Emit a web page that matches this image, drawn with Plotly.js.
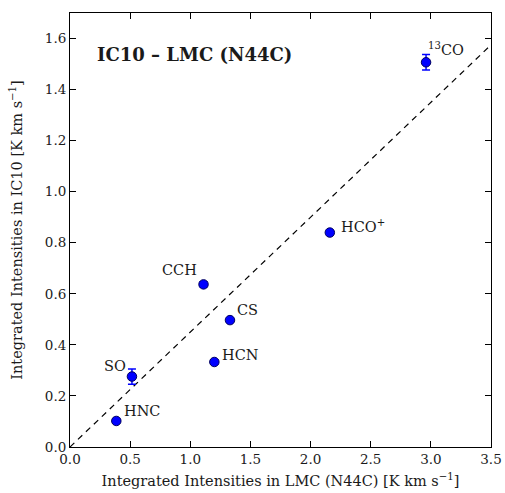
<!DOCTYPE html>
<html>
<head>
<meta charset="utf-8">
<script src="https://cdn.plot.ly/plotly-3.0.1.min.js"></script>
<style>html,body{margin:0;padding:0;background:#fff;}#chart{width:505px;height:493px;}</style>
</head>
<body>
<div id="chart"></div>
<script>
const species = ["<sup>13</sup>CO", "HCO<sup>+</sup>", "CCH", "CS", "HCN", "SO", "HNC"];
const lmcValues = [2.96, 2.16, 1.11, 1.33, 1.20, 0.515, 0.385];
const ic10Values = [1.507, 0.84, 0.637, 0.497, 0.333, 0.276, 0.102];
const ic10Errors = [0.03, 0.008, 0.01, 0.006, 0.008, 0.03, 0.006];
const lineX = [0, 3.5];
const lineY = [0, 1.575];
const xTicks = [0, 0.5, 1, 1.5, 2, 2.5, 3, 3.5];
const yTicks = [0, 0.2, 0.4, 0.6, 0.8, 1.0, 1.2, 1.4, 1.6];

// label offsets (pixels): [xshift, yshift, xanchor]
const labelOffsets = [
  [0, 13, "left"],
  [9, 7, "left"],
  [-5, 14, "right"],
  [5, 10, "left"],
  [6, 7, "left"],
  [-4, 11, "right"],
  [6, 10, "left"]
];

const font = "DejaVu Serif, Liberation Serif, serif";
const textColor = "#1a1a1a";

const traces = [
  {
    x: lineX, y: lineY, mode: "lines", type: "scatter",
    line: {color: "black", width: 1.2, dash: "6px,5px"},
    hoverinfo: "skip", showlegend: false
  },
  {
    x: lmcValues, y: ic10Values, mode: "markers", type: "scatter",
    marker: {color: "#0000ff", size: 9.5, line: {color: "#000060", width: 1}},
    error_y: {type: "data", array: ic10Errors, visible: true, color: "#0000ff", thickness: 1.5, width: 4},
    showlegend: false
  }
];

const annotations = species.map((s, i) => ({
  x: lmcValues[i], y: ic10Values[i], xref: "x", yref: "y",
  text: s, showarrow: false,
  xanchor: labelOffsets[i][2], yanchor: "middle",
  xshift: labelOffsets[i][0], yshift: labelOffsets[i][1],
  font: {family: font, size: 14.5, color: textColor}
}));
annotations.push({
  x: 0.06, y: 0.905, xref: "paper", yref: "paper",
  text: "<b>IC10 – LMC (N44C)</b>", showarrow: false,
  xanchor: "left", yanchor: "middle",
  font: {family: font, size: 18, color: textColor}
});

const layout = {
  width: 505, height: 493,
  margin: {l: 70, r: 14, t: 13, b: 46},
  paper_bgcolor: "white", plot_bgcolor: "white",
  showlegend: false,
  xaxis: {
    range: [0, 3.5], tickvals: xTicks, ticktext: xTicks.map(v => v.toFixed(1)),
    ticks: "inside", ticklen: 6, tickwidth: 1, tickcolor: "black",
    showline: true, linecolor: "black", linewidth: 1, mirror: "ticks",
    showgrid: false, zeroline: false,
    tickfont: {family: font, size: 13.5, color: textColor},
    title: {text: "Integrated Intensities in LMC (N44C) [K km s<sup>−1</sup>]", font: {family: font, size: 14.5, color: textColor}, standoff: 9}
  },
  yaxis: {
    range: [0, 1.7], tickvals: yTicks, ticktext: yTicks.map(v => v.toFixed(1)),
    ticks: "inside", ticklen: 6, tickwidth: 1, tickcolor: "black",
    showline: true, linecolor: "black", linewidth: 1, mirror: "ticks",
    showgrid: false, zeroline: false,
    tickfont: {family: font, size: 13.5, color: textColor},
    title: {text: "Integrated Intensities in IC10 [K km s<sup>−1</sup>]", font: {family: font, size: 14.5, color: textColor}, standoff: 18}
  },
  annotations: annotations
};

Plotly.newPlot("chart", traces, layout, {staticPlot: true, displayModeBar: false});
</script>
</body>
</html>
